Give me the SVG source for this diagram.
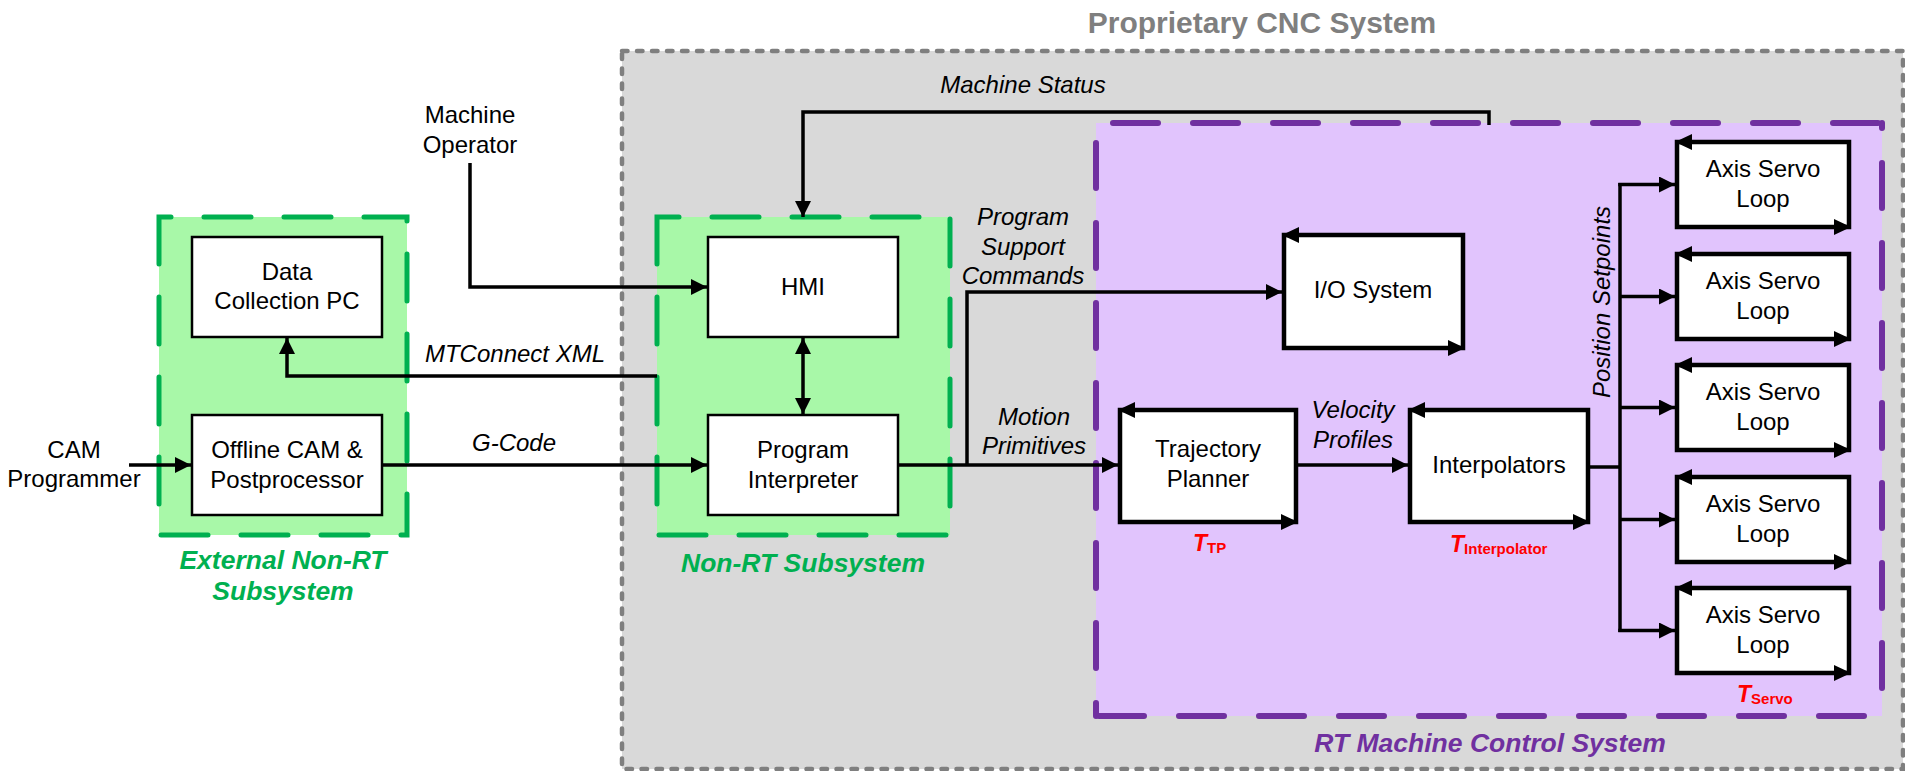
<svg xmlns="http://www.w3.org/2000/svg" width="1905" height="771" viewBox="0 0 1905 771">
  <style>
    text { font-family: "Liberation Sans", Arial, sans-serif; fill: #000; }
    .lbl { font-size: 24px; text-anchor: middle; }
    .ital { font-size: 24px; font-style: italic; text-anchor: middle; }
    .grp-title { font-size: 30px; font-weight: bold; fill: #7f7f7f; text-anchor: middle; }
    .grn-lbl { font-size: 26.5px; font-weight: bold; font-style: italic; fill: #00b050; text-anchor: middle; }
    .pur-lbl { font-size: 26.5px; font-weight: bold; font-style: italic; fill: #7030a0; text-anchor: middle; }
    .period { fill: #ff0000; font-weight: bold; }
    .period .big { font-size: 23px; font-style: italic; }
    .period .sub { font-size: 15px; }
    .cnc { fill: #d9d9d9; stroke: #7f7f7f; stroke-width: 4.5; stroke-dasharray: 5.5 9.5; stroke-linecap: round; }
    .nonrt { fill: #a8f8a8; stroke: #00b050; stroke-width: 5; stroke-dasharray: 47 33; stroke-linecap: round; }
    .rt-fill { fill: #e1c4fd; }
    .rt-edge { fill: none; stroke: #7030a0; stroke-width: 6; stroke-dasharray: 45 35; stroke-linecap: round; }
    .box { fill: #fff; stroke: #000; stroke-width: 2.5; }
    .tbox { fill: #fff; stroke: #000; stroke-width: 4.5; }
    .wire { fill: none; stroke: #000; stroke-width: 3.5; }
  </style>
  <defs>
    <marker id="arr" markerWidth="16" markerHeight="16" refX="16" refY="8" orient="auto-start-reverse" markerUnits="userSpaceOnUse">
      <path d="M0,0L16,8L0,16z" fill="#000"/>
    </marker>
  </defs>

  <!-- Proprietary CNC system enclosure -->
  <g id="cnc-system">
    <rect class="cnc" x="622" y="51" width="1281" height="718"/>
    <text class="grp-title" x="1262" y="33">Proprietary CNC System</text>
  </g>

  <!-- External non-RT subsystem -->
  <g id="external-nonrt">
    <path class="nonrt" d="M159,217V535H407V217Z"/>
    <text class="grn-lbl" x="283" y="569">External Non-RT</text>
    <text class="grn-lbl" x="283" y="600">Subsystem</text>
  </g>

  <!-- Non-RT subsystem -->
  <g id="nonrt">
    <path class="nonrt" d="M657,217V535H950V217Z"/>
    <text class="grn-lbl" x="803" y="572">Non-RT Subsystem</text>
  </g>

  <!-- RT machine control system -->
  <g id="rt-control">
    <rect class="rt-fill" x="1096" y="123" width="786" height="593"/>
    <line class="rt-edge" x1="1096" y1="123" x2="1882" y2="123" stroke-dashoffset="63"/>
    <line class="rt-edge" x1="1096" y1="123" x2="1096" y2="716" stroke-dashoffset="60"/>
    <line class="rt-edge" x1="1096" y1="716" x2="1882" y2="716" stroke-dashoffset="77"/>
    <line class="rt-edge" x1="1882" y1="123" x2="1882" y2="716" stroke-dashoffset="40"/>
    <text class="pur-lbl" x="1490" y="752">RT Machine Control System</text>
  </g>

  <!-- Connectors -->
  <g id="connectors">
    <path class="wire" d="M129,465H191" marker-end="url(#arr)"/>
    <path class="wire" d="M383,465H707" marker-end="url(#arr)"/>
    <path class="wire" d="M470,163V287H707" marker-end="url(#arr)"/>
    <path class="wire" d="M657,376H287V338" marker-end="url(#arr)"/>
    <path class="wire" d="M803,338V414" marker-start="url(#arr)" marker-end="url(#arr)"/>
    <path class="wire" d="M1489,125V112H803V217" marker-end="url(#arr)"/>
    <path class="wire" d="M899,465H1118" marker-end="url(#arr)"/>
    <path class="wire" d="M967,465V292H1282" marker-end="url(#arr)"/>
    <path class="wire" d="M1298,465H1408" marker-end="url(#arr)"/>
    <path class="wire" d="M1590,467H1620"/>
    <path class="wire" d="M1620,183V632"/>
    <path class="wire" d="M1618.25,184.5H1675" marker-end="url(#arr)"/>
    <path class="wire" d="M1620,296.5H1675" marker-end="url(#arr)"/>
    <path class="wire" d="M1620,407.5H1675" marker-end="url(#arr)"/>
    <path class="wire" d="M1620,519.5H1675" marker-end="url(#arr)"/>
    <path class="wire" d="M1618.25,630.5H1675" marker-end="url(#arr)"/>

    <text class="ital" x="515" y="362">MTConnect XML</text>
    <text class="ital" x="514" y="451">G-Code</text>
    <text class="ital" x="1023" y="93">Machine Status</text>
    <text class="ital" x="1023" y="225">Program</text>
    <text class="ital" x="1023" y="255">Support</text>
    <text class="ital" x="1023" y="284">Commands</text>
    <text class="ital" x="1034" y="425">Motion</text>
    <text class="ital" x="1034" y="454">Primitives</text>
    <text class="ital" x="1353" y="418">Velocity</text>
    <text class="ital" x="1353" y="448">Profiles</text>
    <text class="ital" transform="translate(1610,302) rotate(-90)">Position Setpoints</text>
  </g>

  <!-- External actors -->
  <g id="cam-programmer">
    <text class="lbl" x="74" y="458">CAM</text>
    <text class="lbl" x="74" y="487">Programmer</text>
  </g>
  <g id="machine-operator">
    <text class="lbl" x="470" y="123">Machine</text>
    <text class="lbl" x="470" y="153">Operator</text>
  </g>

  <!-- Non-RT nodes -->
  <g id="data-collection">
    <rect class="box" x="192" y="237" width="190" height="100"/>
    <text class="lbl" x="287" y="280">Data</text>
    <text class="lbl" x="287" y="309">Collection PC</text>
  </g>
  <g id="offline-cam">
    <rect class="box" x="192" y="415" width="190" height="100"/>
    <text class="lbl" x="287" y="458">Offline CAM &amp;</text>
    <text class="lbl" x="287" y="488">Postprocessor</text>
  </g>
  <g id="hmi">
    <rect class="box" x="708" y="237" width="190" height="100"/>
    <text class="lbl" x="803" y="295">HMI</text>
  </g>
  <g id="program-interpreter">
    <rect class="box" x="708" y="415" width="190" height="100"/>
    <text class="lbl" x="803" y="458">Program</text>
    <text class="lbl" x="803" y="488">Interpreter</text>
  </g>

  <!-- RT nodes -->
  <g id="io-system">
    <rect class="tbox" x="1284" y="235" width="179" height="113"/>
    <path d="M1282,235L1299,227V243Z M1465,348L1448,340V356Z"/>
    <text class="lbl" x="1373" y="298">I/O System</text>
  </g>
  <g id="trajectory-planner">
    <rect class="tbox" x="1120" y="410" width="176" height="112"/>
    <path d="M1118,410L1135,402V418Z M1298,522L1281,514V530Z"/>
    <text class="lbl" x="1208" y="457">Trajectory</text>
    <text class="lbl" x="1208" y="487">Planner</text>
    <text class="period" x="1193" y="551"><tspan class="big">T</tspan><tspan class="sub" dy="2">TP</tspan></text>
  </g>
  <g id="interpolators">
    <rect class="tbox" x="1410" y="410" width="178" height="112"/>
    <path d="M1408,410L1425,402V418Z M1590,522L1573,514V530Z"/>
    <text class="lbl" x="1499" y="473">Interpolators</text>
    <text class="period" x="1450" y="552"><tspan class="big">T</tspan><tspan class="sub" dy="2">Interpolator</tspan></text>
  </g>
  <g id="axis-servo-1">
    <rect class="tbox" x="1677" y="142" width="172" height="85"/>
    <path d="M1675,142L1692,134V150Z M1851,227L1834,219V235Z"/>
    <text class="lbl" x="1763" y="177">Axis Servo</text>
    <text class="lbl" x="1763" y="207">Loop</text>
  </g>
  <g id="axis-servo-2">
    <rect class="tbox" x="1677" y="254" width="172" height="85"/>
    <path d="M1675,254L1692,246V262Z M1851,339L1834,331V347Z"/>
    <text class="lbl" x="1763" y="289">Axis Servo</text>
    <text class="lbl" x="1763" y="319">Loop</text>
  </g>
  <g id="axis-servo-3">
    <rect class="tbox" x="1677" y="365" width="172" height="85"/>
    <path d="M1675,365L1692,357V373Z M1851,450L1834,442V458Z"/>
    <text class="lbl" x="1763" y="400">Axis Servo</text>
    <text class="lbl" x="1763" y="430">Loop</text>
  </g>
  <g id="axis-servo-4">
    <rect class="tbox" x="1677" y="477" width="172" height="85"/>
    <path d="M1675,477L1692,469V485Z M1851,562L1834,554V570Z"/>
    <text class="lbl" x="1763" y="512">Axis Servo</text>
    <text class="lbl" x="1763" y="542">Loop</text>
  </g>
  <g id="axis-servo-5">
    <rect class="tbox" x="1677" y="588" width="172" height="85"/>
    <path d="M1675,588L1692,580V596Z M1851,673L1834,665V681Z"/>
    <text class="lbl" x="1763" y="623">Axis Servo</text>
    <text class="lbl" x="1763" y="653">Loop</text>
    <text class="period" x="1737" y="702"><tspan class="big">T</tspan><tspan class="sub" dy="2">Servo</tspan></text>
  </g>
</svg>
